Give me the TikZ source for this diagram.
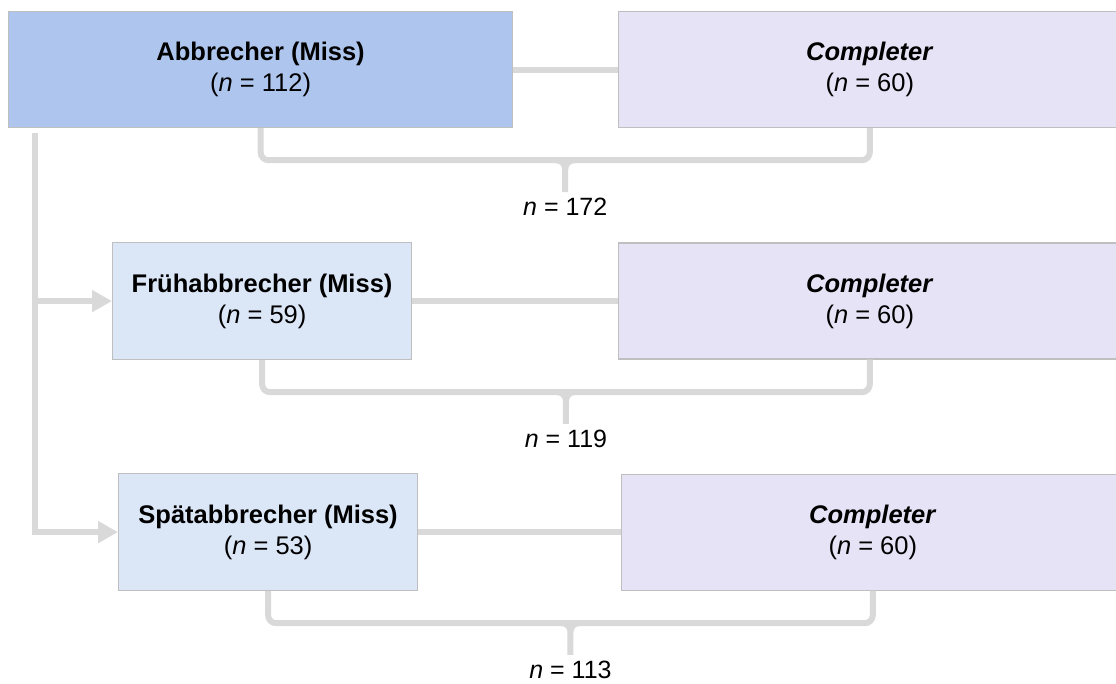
\documentclass[tikz,border=0pt]{standalone}
\usepackage{fontspec}
\setmainfont{Liberation Sans}
\usepackage{tikz}
\usetikzlibrary{positioning,calc,arrows.meta}
\definecolor{dropfill}{HTML}{AEC6EE}
\definecolor{subfill}{HTML}{DBE6F7}
\definecolor{compfill}{HTML}{E6E3F6}
\definecolor{boxline}{HTML}{BFBFBF}
\definecolor{linkgray}{HTML}{D9D9D9}
\tikzset{
  box/.style={draw=boxline, line width=1.2pt, align=center, inner sep=0pt,
    font=\fontsize{25.5}{31}\selectfont},
  drop/.style={box, fill=dropfill, minimum width=504pt, minimum height=116pt},
  sub/.style={box, fill=subfill, minimum width=299pt, minimum height=117pt},
  comp/.style={box, fill=compfill, minimum width=502pt, minimum height=116pt},
  link/.style={draw=linkgray, line width=6pt},
  tip/.style={-{Triangle[length=20pt,width=21pt]}},
  sum/.style={inner sep=2pt, font=\fontsize{25}{30}\selectfont},
}
% bracket under two boxes with the group size
\newcommand{\groupsum}[4]{%
  \draw[link, rounded corners=8pt] (#1.south) -- ++(0,32) -| (#2.south);
  \coordinate (#3) at ($(#1.south)!0.5!(#2.south)+(0,32)$);
  \draw[link] ($(#3)+(-9,0)$) to[out=0,in=90] ($(#3)+(0,9)$) -- ++(0,23) coordinate (#3t);
  \draw[link] ($(#3)+(9,0)$) to[out=180,in=90] ($(#3)+(0,9)$);
  \node[sum, below=4pt of #3t] {#4};
}

\begin{document}
\begin{tikzpicture}[x=1pt, y=-1pt]
  \useasboundingbox (0,0) rectangle (1116,684);
  % nodes
  \node[drop, anchor=north west] (abb) at (8,11) {\textbf{Abbrecher (Miss)}\\(\textit{n} = 112)};
  \node[comp, right=105pt of abb] (comp1) {\textbf{\textit{Completer}}\\(\textit{n} = 60)};
  \node[sub, anchor=north west] (frueh) at (112,242) {\textbf{Frühabbrecher (Miss)}\\(\textit{n} = 59)};
  \node[comp, right=206pt of frueh] (comp2) {\textbf{\textit{Completer}}\\(\textit{n} = 60)};
  \node[sub, anchor=north west] (spaet) at (118,473) {\textbf{Spätabbrecher (Miss)}\\(\textit{n} = 53)};
  \node[comp, right=203pt of spaet] (comp3) {\textbf{\textit{Completer}}\\(\textit{n} = 60)};
  \coordinate (trunk) at ($(abb.south west)+(27,5)$);
  % edges
  \draw[link] (abb.east) -- (comp1.west);
  \draw[link] (frueh.east) -- (comp2.west);
  \draw[link] (spaet.east) -- (comp3.west);
  \draw[link, tip] (trunk) |- (spaet.west);
  \draw[link, tip] (trunk |- frueh.west) -- (frueh.west);
  % sums
  \groupsum{abb}{comp1}{s1}{\textit{n} = 172}
  \groupsum{frueh}{comp2}{s2}{\textit{n} = 119}
  \groupsum{spaet}{comp3}{s3}{\textit{n} = 113}
\end{tikzpicture}
\end{document}
